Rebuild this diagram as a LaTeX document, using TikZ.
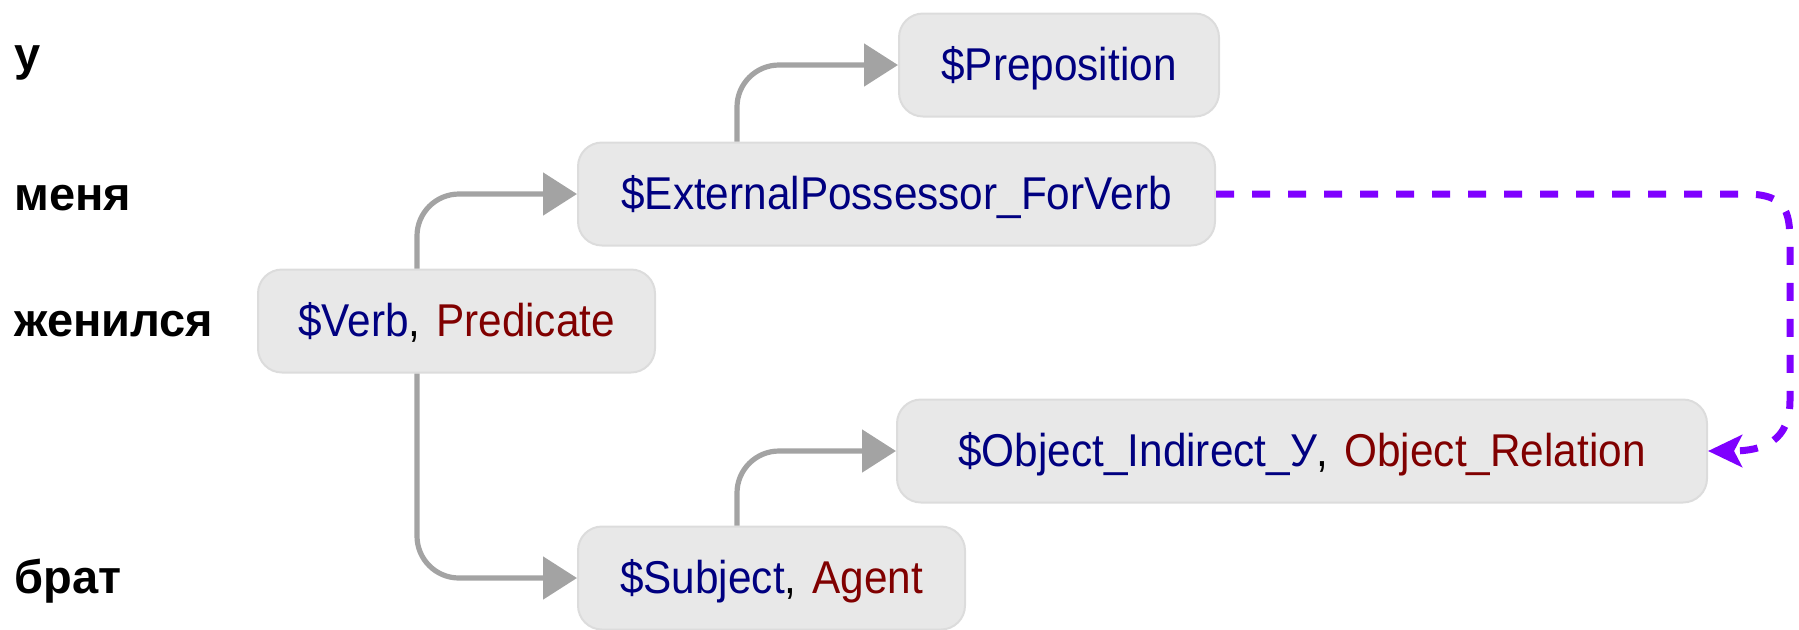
\documentclass[tikz,border=0pt]{standalone}
\usepackage{fontspec}
\setmainfont{Liberation Sans}[FakeStretch=0.92]
\newfontfamily\labelfont{Liberation Sans}
\usetikzlibrary{arrows.meta,calc}
\definecolor{boxfill}{HTML}{E8E8E8}
\definecolor{boxline}{HTML}{DCDCDC}
\definecolor{navyt}{HTML}{000080}
\definecolor{maroont}{HTML}{800000}
\definecolor{arrowgray}{HTML}{A3A3A3}
\definecolor{purp}{HTML}{7F00FF}
\newcommand{\navytext}[1]{\textcolor{navyt}{#1}}
\newcommand{\redtext}[1]{\textcolor{maroont}{#1}}
\newcommand{\sep}{,\hspace{2pt} }
\begin{document}
\begin{tikzpicture}[x=0.5pt,y=-0.5pt,
  box/.style={fill=boxfill,draw=boxline,line width=1pt,rounded corners=12pt,
    minimum height=51.5pt,anchor=west,inner sep=0pt,text height=16pt,text depth=1pt,
    font=\fontsize{23}{26}\selectfont},
  wordlabel/.style={anchor=base west,inner sep=0pt,font=\labelfont\fontsize{23.5}{26}\selectfont\bfseries},
  garrow/.style={draw=arrowgray,line width=2.6pt,rounded corners=21pt,
    -{Triangle[length=17pt,width=21pt]}},
  parrow/.style={draw=purp,line width=3.5pt,dash pattern=on 9pt off 9pt,
    -{Stealth[length=17pt,width=16pt,inset=4pt]}}
]
\useasboundingbox (0,0) rectangle (1799,629);

\node[wordlabel] (l1) at (14,70) {у};
\node[wordlabel] (l2) at (14,210) {меня};
\node[wordlabel] (l3) at (14,336) {женился};
\node[wordlabel] (l4) at (14,593) {брат};

\node[box,minimum width=160pt] (prep) at (898,65) {\navytext{\$Preposition}};
\node[box,minimum width=318.5pt] (ext) at (577,194) {\navytext{\$ExternalPossessor\_ForVerb}};
\node[box,minimum width=198.5pt] (verb) at (257,321) {\navytext{\$Verb}\sep\redtext{Predicate}};
\node[box,minimum width=405pt] (obj) at (896,451) {\navytext{\$Object\_Indirect\_У}\sep\redtext{Object\_Relation}};
\node[box,minimum width=193.5pt] (subj) at (577,578) {\navytext{\$Subject}\sep\redtext{Agent}};

\draw[garrow] ($(verb.north west)+(160,0)$) |- (ext.west);
\draw[garrow] ($(ext.north west)+(160,0)$) |- (prep.west);
\draw[garrow] ($(verb.south west)+(160,0)$) |- (subj.west);
\draw[garrow] ($(subj.north west)+(160,0)$) |- (obj.west);

\coordinate (c1) at (1745,194);
\coordinate (c2) at (1790,250);
\coordinate (c3) at (1790,400);
\draw[parrow] (ext.east) -- (c1) .. controls (1790,194) and (1790,215) .. (c2) -- (c3)
  .. controls (1790,440) and (1765,451) .. (obj.east);
\end{tikzpicture}
\end{document}
